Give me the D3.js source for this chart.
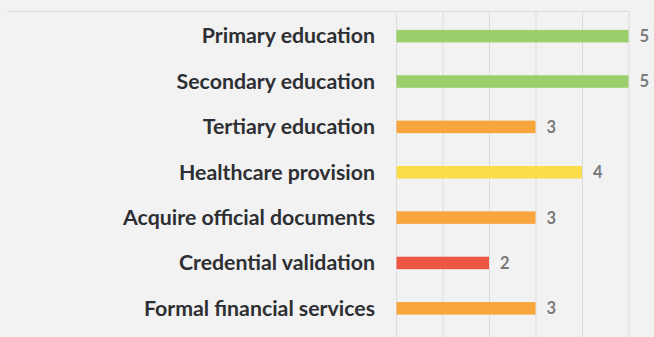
<!DOCTYPE html>
<html>
<head>
<meta charset="utf-8">
<script src="https://cdn.jsdelivr.net/npm/d3@7"></script>
<style>
  html, body { margin: 0; padding: 0; background: #f2f2f2; }
  svg { display: block; }
</style>
</head>
<body>
<svg width="654" height="337"></svg>
<script>
// data
const categories = ["Primary education", "Secondary education", "Tertiary education",
  "Healthcare provision", "Acquire official documents", "Credential validation",
  "Formal financial services"];
const scores = [5, 5, 3, 4, 3, 2, 3];
const barColors = ["#9bcf6b", "#9bcf6b", "#f8a53c", "#fbdd4a", "#f8a53c", "#ee5644", "#f8a53c"];
const tickValues = [0, 1, 2, 3, 4, 5];

const svg = d3.select("svg");
const width = +svg.attr("width");
const height = +svg.attr("height");

const plotTop = 11;
const x = d3.scaleLinear().domain([0, 5]).range([396, 628.5]);
const y = d3.scaleBand().domain(categories).range([13.5, 331]).padding(0);
const barH = 12.5;

// top rule
svg.append("line")
  .attr("x1", 7).attr("x2", x(5))
  .attr("y1", plotTop + 0.5).attr("y2", plotTop + 0.5)
  .attr("stroke", "#ddd6d8").attr("stroke-width", 1);

// vertical grid
const grid = svg.append("g")
  .attr("transform", "translate(0," + plotTop + ")")
  .call(d3.axisBottom(x).tickValues(tickValues).tickSize(height - plotTop).tickFormat(""));
grid.select(".domain").remove();
grid.selectAll(".tick line").attr("stroke", "#dcdcdc");

// category labels
const yAxis = svg.append("g")
  .attr("transform", "translate(" + x(0) + ",0)")
  .call(d3.axisLeft(y).tickSize(0).tickPadding(21));
yAxis.select(".domain").remove();
yAxis.selectAll("text")
  .attr("fill", "#2e2f33")
  .attr("dy", "0.34em")
  .style("font", "bold 21.3px Lato, sans-serif");

const rows = categories.map((c, i) => ({ c, v: scores[i], col: barColors[i] }));

svg.append("g").selectAll("rect")
  .data(rows)
  .enter().append("rect")
  .attr("x", x(0) + 0.5)
  .attr("y", d => y(d.c) + y.bandwidth() / 2 - barH / 2)
  .attr("width", d => x(d.v) - x(0) - 0.5)
  .attr("height", barH)
  .attr("fill", d => d.col);

svg.append("g").selectAll("text")
  .data(rows)
  .enter().append("text")
  .attr("x", d => x(d.v) + 11)
  .attr("y", d => y(d.c) + y.bandwidth() / 2)
  .attr("dy", "0.36em")
  .attr("fill", "#7a7a7a")
  .style("font", "bold 16.5px Lato, sans-serif")
  .text(d => d.v);
</script>
</body>
</html>
